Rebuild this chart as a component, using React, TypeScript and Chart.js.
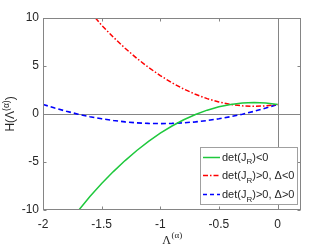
import React, { useEffect, useRef } from 'react';
import { Chart, registerables } from 'chart.js';
Chart.register(...registerables);

const xTicks = [-2, -1.5, -1, -0.5, 0];
const yTicks = [-10, -5, 0, 5, 10];
const xTickLabels = ['-2', '-1.5', '-1', '-0.5', '0'];

// det(J_R) < 0  (green, solid)
const greenX = [-1.694, -1.6, -1.5, -1.4, -1.3, -1.2, -1.1, -1.0, -0.9, -0.8, -0.7, -0.6, -0.5, -0.4, -0.3, -0.2, -0.1, 0];
const greenY = [-10, -8.6, -7.25, -6.0, -4.85, -3.8, -2.85, -2.0, -1.25, -0.6, -0.05, 0.4, 0.75, 1.0, 1.15, 1.2, 1.15, 1.0];

// det(J_R) > 0, Δ < 0  (red, dash-dot)
const redX = [-1.553, -1.5, -1.4, -1.3, -1.2, -1.1, -1.0, -0.9, -0.8, -0.7, -0.6, -0.5, -0.4, -0.3, -0.2, -0.1, 0];
const redY = [10, 9.25, 8.0, 6.85, 5.8, 4.85, 4.0, 3.25, 2.6, 2.05, 1.6, 1.25, 1.0, 0.85, 0.8, 0.85, 1.0];

// det(J_R) > 0, Δ > 0  (blue, dashed)
const blueX = [-2, -1.9, -1.8, -1.7, -1.6, -1.5, -1.4, -1.3, -1.2, -1.1, -1.0, -0.9, -0.8, -0.7, -0.6, -0.5, -0.4, -0.3, -0.2, -0.1, 0];
const blueY = [1.0, 0.62, 0.28, -0.02, -0.28, -0.5, -0.68, -0.82, -0.92, -0.98, -1.0, -0.98, -0.92, -0.82, -0.68, -0.5, -0.28, -0.02, 0.28, 0.62, 1.0];

const GREEN = '#1ec83c';
const RED = '#ff0000';
const BLUE = '#0000ff';
const AXIS = '#858585';
const TEXT = '#262626';
const SANS = '"Liberation Sans", Arial, sans-serif';
const SERIF = '"Liberation Serif", "Times New Roman", serif';

const legendItems = [
  { color: GREEN, dash: [] as number[], parts: [['det(J', false], ['R', true], [')<0', false]] },
  { color: RED, dash: [5, 2, 1.5, 2], parts: [['det(J', false], ['R', true], [')>0, Δ<0', false]] },
  { color: BLUE, dash: [4, 3], parts: [['det(J', false], ['R', true], [')>0, Δ>0', false]] },
];

const mk = (xs: number[], ys: number[]) => xs.map((x, i) => ({ x, y: ys[i] }));

const customPlugin = {
  id: 'customDecor',
  beforeDatasetsDraw(chart: any) {
    const { ctx, chartArea: a, scales } = chart;
    ctx.save();
    ctx.strokeStyle = AXIS;
    ctx.lineWidth = 1;
    const y0 = Math.round(scales.y.getPixelForValue(0)) + 0.5;
    const x0 = Math.round(scales.x.getPixelForValue(0)) + 0.5;
    ctx.beginPath();
    ctx.moveTo(a.left, y0);
    ctx.lineTo(a.right, y0);
    ctx.moveTo(x0, a.top);
    ctx.lineTo(x0, a.bottom);
    ctx.stroke();
    ctx.restore();
  },
  afterDraw(chart: any) {
    const { ctx, chartArea: a, scales } = chart;
    ctx.save();
    // axis box
    ctx.strokeStyle = AXIS;
    ctx.lineWidth = 1;
    const L = Math.round(a.left) + 0.5, R = Math.round(a.right) - 0.5;
    const T = Math.round(a.top) + 0.5, B = Math.round(a.bottom) - 0.5;
    ctx.strokeRect(L, T, R - L, B - T);
    // inward ticks
    const tl = 3;
    ctx.beginPath();
    xTicks.forEach((v) => {
      const px = Math.round(scales.x.getPixelForValue(v)) + 0.5;
      ctx.moveTo(px, B); ctx.lineTo(px, B - tl);
      ctx.moveTo(px, T); ctx.lineTo(px, T + tl);
    });
    yTicks.forEach((v) => {
      const py = Math.round(scales.y.getPixelForValue(v)) + 0.5;
      ctx.moveTo(L, py); ctx.lineTo(L + tl, py);
      ctx.moveTo(R, py); ctx.lineTo(R - tl, py);
    });
    ctx.stroke();

    // legend
    const lx = 200.5, ly = 147.5, lw = 97, lh = 57;
    ctx.fillStyle = '#ffffff';
    ctx.fillRect(lx, ly, lw, lh);
    ctx.strokeStyle = '#a0a0a0';
    ctx.strokeRect(lx, ly, lw, lh);
    const rows = [156.7, 175.3, 194];
    legendItems.forEach((it, i) => {
      const cy = Math.round(rows[i]) + 0.5;
      ctx.strokeStyle = it.color;
      ctx.lineWidth = 1.5;
      ctx.setLineDash(it.dash);
      ctx.beginPath();
      ctx.moveTo(203, cy);
      ctx.lineTo(220, cy);
      ctx.stroke();
      ctx.setLineDash([]);
      let tx = 222;
      ctx.fillStyle = TEXT;
      ctx.textBaseline = 'alphabetic';
      ctx.textAlign = 'left';
      const base = rows[i] + 4;
      (it.parts as any[]).forEach(([t, sub]) => {
        ctx.font = sub ? `8px ${SANS}` : `11px ${SANS}`;
        ctx.fillText(t, tx, sub ? base + 3.5 : base);
        tx += ctx.measureText(t).width;
      });
    });

    // x title: Λ^(α)
    ctx.fillStyle = TEXT;
    ctx.textBaseline = 'alphabetic';
    ctx.textAlign = 'left';
    ctx.font = `12px ${SERIF}`;
    const w1 = ctx.measureText('Λ').width;
    ctx.font = `9px ${SERIF}`;
    const w2 = ctx.measureText('(α)').width;
    const cx = (a.left + a.right) / 2;
    const sx = cx - (w1 + w2) / 2;
    ctx.font = `12px ${SERIF}`;
    ctx.fillText('Λ', sx, 244);
    ctx.font = `9px ${SERIF}`;
    ctx.fillText('(α)', sx + w1 + 0.5, 238);

    // y title: H(Λ^(α)) rotated
    ctx.save();
    ctx.translate(14, 114);
    ctx.rotate(-Math.PI / 2);
    ctx.font = `12px ${SANS}`;
    const p1 = 'H(Λ';
    const p3 = ')';
    const a1 = ctx.measureText(p1).width;
    const a3 = ctx.measureText(p3).width;
    ctx.font = `8.5px ${SANS}`;
    const a2 = ctx.measureText('(α)').width;
    let ox = -(a1 + a2 + a3) / 2;
    ctx.font = `12px ${SANS}`;
    ctx.fillText(p1, ox, 0);
    ox += a1;
    ctx.font = `8.5px ${SANS}`;
    ctx.fillText('(α)', ox, -5.5);
    ox += a2;
    ctx.font = `12px ${SANS}`;
    ctx.fillText(p3, ox, 0);
    ctx.restore();

    ctx.restore();
  },
};

export default function App() {
  const ref = useRef<HTMLCanvasElement | null>(null);
  useEffect(() => {
    if (!ref.current) return;
    const chart = new Chart(ref.current, {
      type: 'line',
      data: {
        datasets: [
          { label: 'green', data: mk(greenX, greenY), borderColor: GREEN, borderWidth: 1.5, pointRadius: 0, fill: false, tension: 0 },
          { label: 'red', data: mk(redX, redY), borderColor: RED, borderWidth: 1.5, borderDash: [5, 2, 1.5, 2], pointRadius: 0, fill: false, tension: 0 },
          { label: 'blue', data: mk(blueX, blueY), borderColor: BLUE, borderWidth: 1.6, borderDash: [5, 3], pointRadius: 0, fill: false, tension: 0 },
        ],
      },
      options: {
        animation: false,
        responsive: false,
        events: [],
        layout: { padding: { left: 0, top: 18, right: 31, bottom: 0 } },
        plugins: { legend: { display: false }, tooltip: { enabled: false } },
        scales: {
          x: {
            type: 'linear',
            min: -2,
            max: 0.2,
            grid: { display: false, drawTicks: false },
            border: { display: false },
            afterFit: (s: any) => { s.height = 39; },
            afterBuildTicks: (s: any) => { s.ticks = xTicks.map((v) => ({ value: v })); },
            ticks: {
              padding: 7,
              maxRotation: 0,
              autoSkip: false,
              color: TEXT,
              font: { family: SANS, size: 12 },
              callback: (v: any) => xTickLabels[xTicks.indexOf(Number(v))] ?? '',
            },
          },
          y: {
            type: 'linear',
            min: -10,
            max: 10,
            grid: { display: false, drawTicks: false },
            border: { display: false },
            afterFit: (s: any) => { s.width = 43; },
            afterBuildTicks: (s: any) => { s.ticks = yTicks.map((v) => ({ value: v })); },
            ticks: {
              padding: 4,
              autoSkip: false,
              color: TEXT,
              font: { family: SANS, size: 12 },
              callback: (v: any) => String(v),
            },
          },
        },
      },
      plugins: [customPlugin],
    });
    return () => chart.destroy();
  }, []);
  return (
    <div style={{ position: 'fixed', left: 0, top: 0, width: 332, height: 249, background: '#fff' }}>
      <canvas ref={ref} width={332} height={249} style={{ display: 'block', width: 332, height: 249 }} />
    </div>
  );
}
